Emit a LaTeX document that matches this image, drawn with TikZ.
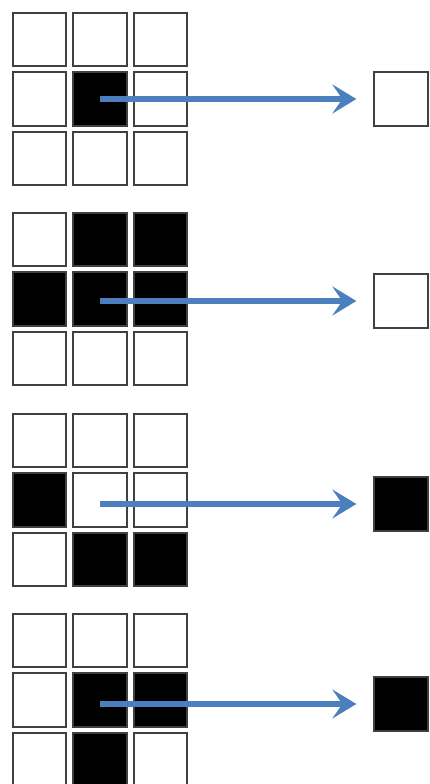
\documentclass[tikz,border=0pt]{standalone}
\usepackage{tikz}
\usetikzlibrary{arrows.meta,positioning}
\usepackage{xcolor}
\definecolor{arrowblue}{RGB}{76,127,189}

\tikzset{
    cellw/.style={draw=black!75, line width=1.8pt, fill=white, minimum size=53.5pt, inner sep=0pt},
    cellb/.style={cellw, fill=black},
    flowarrow/.style={arrowblue, line width=5.5pt, shorten >=17pt,
        -{Stealth[length=24pt, width=29pt, inset=10pt]}}
}

\begin{document}
\begin{tikzpicture}[x=1pt, y=-1pt]
    \useasboundingbox (0,0) rectangle (430,784);

    % Grid 1
    \foreach \r/\c/\s in {1/1/cellw,1/2/cellw,1/3/cellw,
                          2/1/cellw,2/2/cellb,2/3/cellw,
                          3/1/cellw,3/2/cellw,3/3/cellw}
        \node[\s] (a\r\c) at ({39.5+60.5*(\c-1)}, {39.5+59.5*(\r-1)}) {};
    \node[cellw] (oa) at (401, 99) {};

    % Grid 2
    \foreach \r/\c/\s in {1/1/cellw,1/2/cellb,1/3/cellb,
                          2/1/cellb,2/2/cellb,2/3/cellb,
                          3/1/cellw,3/2/cellw,3/3/cellw}
        \node[\s] (b\r\c) at ({39.5+60.5*(\c-1)}, {239.5+59.5*(\r-1)}) {};
    \node[cellw] (ob) at (401, 301) {};

    % Grid 3
    \foreach \r/\c/\s in {1/1/cellw,1/2/cellw,1/3/cellw,
                          2/1/cellb,2/2/cellw,2/3/cellw,
                          3/1/cellw,3/2/cellb,3/3/cellb}
        \node[\s] (c\r\c) at ({39.5+60.5*(\c-1)}, {440.5+59.5*(\r-1)}) {};
    \node[cellb] (oc) at (401, 504) {};

    % Grid 4
    \foreach \r/\c/\s in {1/1/cellw,1/2/cellw,1/3/cellw,
                          2/1/cellw,2/2/cellb,2/3/cellb,
                          3/1/cellw,3/2/cellb,3/3/cellw}
        \node[\s] (d\r\c) at ({39.5+60.5*(\c-1)}, {640.5+59.5*(\r-1)}) {};
    \node[cellb] (od) at (401, 704) {};

    % Panah
    \draw[flowarrow] (a22.center |- oa.west) -- (oa.west);
    \draw[flowarrow] (b22.center |- ob.west) -- (ob.west);
    \draw[flowarrow] (c22.center |- oc.west) -- (oc.west);
    \draw[flowarrow] (d22.center |- od.west) -- (od.west);
\end{tikzpicture}
\end{document}
